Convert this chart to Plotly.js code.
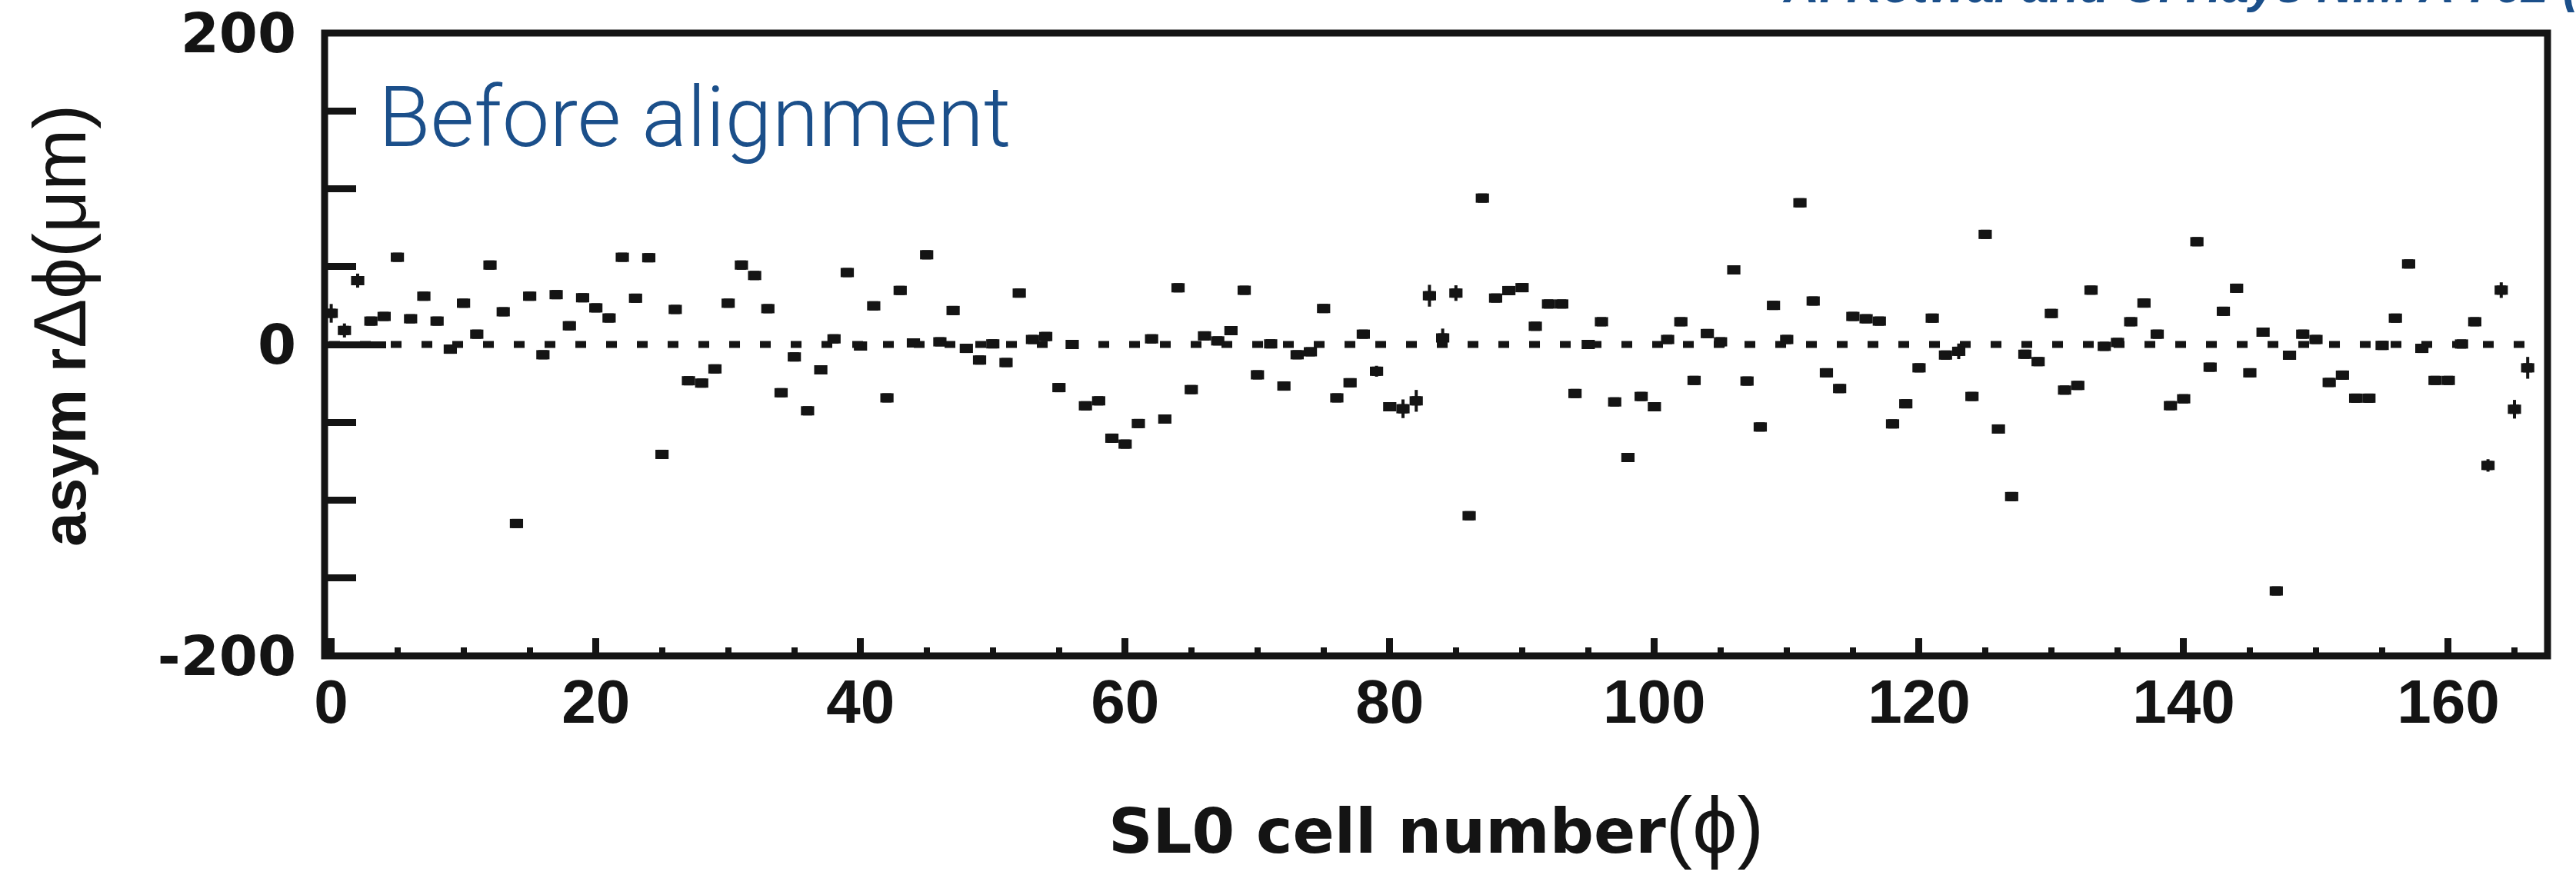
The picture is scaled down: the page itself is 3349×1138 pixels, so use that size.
<!DOCTYPE html>
<html>
<head>
<meta charset="utf-8">
<script src="https://cdn.plot.ly/plotly-3.0.1.min.js"></script>
<style>
html, body { margin: 0; padding: 0; background: #ffffff; }
#chart { width: 3349px; height: 1138px; }
</style>
</head>
<body>
<div id="chart"></div>
<script>
// SL0 cell number (phi)
const cells = [
  0, 1, 2, 3, 4, 5, 6, 7, 8, 9,
  10, 11, 12, 13, 14, 15, 16, 17, 18, 19,
  20, 21, 22, 23, 24, 25, 26, 27, 28, 29,
  30, 31, 32, 33, 34, 35, 36, 37, 38, 39,
  40, 41, 42, 43, 44, 45, 46, 47, 48, 49,
  50, 51, 52, 53, 54, 55, 56, 57, 58, 59,
  60, 61, 62, 63, 64, 65, 66, 67, 68, 69,
  70, 71, 72, 73, 74, 75, 76, 77, 78, 79,
  80, 81, 82, 83, 84, 85, 86, 87, 88, 89,
  90, 91, 92, 93, 94, 95, 96, 97, 98, 99,
  100, 101, 102, 103, 104, 105, 106, 107, 108, 109,
  110, 111, 112, 113, 114, 115, 116, 117, 118, 119,
  120, 121, 122, 123, 124, 125, 126, 127, 128, 129,
  130, 131, 132, 133, 134, 135, 136, 137, 138, 139,
  140, 141, 142, 143, 144, 145, 146, 147, 148, 149,
  150, 151, 152, 153, 154, 155, 156, 157, 158, 159,
  160, 161, 162, 163, 164, 165, 166
];

// asym r·dphi (um), before alignment
const asym = [
  20, 9, 41, 15, 18, 56, 16.5, 31, 15, -3,
  26.5, 6.6, 51, 21, -115, 31, -6.6, 32, 12, 30,
  23.5, 17, 56, 29.7, 55.7, -70.6, 22.5, -23.3, -24.8, -15.7,
  26.5, 51, 44.3, 23, -31, -8, -42.6, -16.3, 3.6, 46.2,
  -1, 24.8, -34.3, 34.7, 1, 57.6, 1.7, 21.8, -2.5, -10,
  0.4, -11.6, 33, 3.2, 5.1, -27.7, 0, -39.4, -36.2, -60.2,
  -64, -50.8, 3.6, -47.9, 36.4, -29, 5.5, 2.3, 8.9, 34.8,
  -19.5, 0.4, -26.7, -6.6, -4.7, 23.1, -34.3, -24.6, 6.6, -17.2,
  -40, -41.3, -36.2, 31.3, 4.2, 33, -110, 94, 29.8, 34.6,
  36.5, 11.7, 26, 26, -31.5, 0, 14.6, -36.9, -72.6, -33.4,
  -40, 3.2, 14.6, -23.1, 7, 1.7, 47.9, -23.5, -53, 25.1,
  3.2, 91, 27.9, -18.2, -28.3, 18, 16.5, 15, -51, -38.1,
  -15, 16.9, -6.8, -4.4, -33.4, 70.7, -54.3, -97.7, -6.3, -11,
  19.9, -29.3, -26.3, 34.9, -1.2, 1.3, 14.6, 26.6, 6.6, -39.3,
  -34.9, 66, -14.6, 21.3, 36.1, -18.2, 7.9, -158.3, -6.9, 6.6,
  3.2, -24.4, -19.7, -34.5, -34.5, -0.6, 16.9, 51.7, -2.5, -23.1,
  -23.1, 0.3, 14.6, -77.7, 34.9, -41.6, -15
];

// statistical error (um)
const asymErr = [
  6, 4.5, 4.5, 2, 2, 2, 2, 2, 2, 2,
  2, 2, 2, 2, 2, 2, 2, 2, 2, 2,
  2, 2, 2, 2, 2, 2, 2, 2, 2, 2,
  2, 2, 2, 2, 2, 2, 2, 2, 2, 2,
  2, 2, 2, 2, 2, 2, 2, 2, 2, 2,
  2, 2, 2, 2, 2, 2, 2, 2, 2, 2,
  2, 2, 2, 2, 2, 2, 2, 2, 2, 2,
  2, 2, 2, 2, 2, 2, 2, 2, 2, 3.5,
  2, 6, 7, 7, 6, 5, 2, 2, 2, 2,
  2, 2, 2, 2, 2, 2, 2, 2, 2, 2,
  2, 2, 2, 2, 2, 2, 2, 2, 2, 2,
  2, 2, 2, 2, 2, 2, 2, 2, 2, 2,
  2, 2, 2, 5, 2, 2, 2, 2, 2, 2,
  2, 2, 2, 2, 2, 2, 2, 2, 2, 2,
  2, 2, 2, 2, 2, 2, 2, 2, 2, 2,
  2, 2, 2, 2, 2, 2, 2, 2, 2, 2,
  2, 2, 2, 4, 5, 6, 7
];

// y tick labels (plain hyphen as in the original)
const yTickVals = [-200, 0, 200];
const yTickText = ['-200', '0', '200'];

const xTitle = '<b>SL0 cell number</b><span style="font-family:\'Liberation Sans\',Arial,sans-serif;font-size:104px;font-weight:normal">(\u03D5)</span>';
const yTitle = '<b>asym r</b><span style="font-family:\'Liberation Sans\',Arial,sans-serif;font-size:96px;font-weight:normal">\u0394\u03D5(\u03BCm)</span>';
const panelLabel = 'Before alignment';
const citation = 'A. Kotwal and C. Hays NIM A 762 (2014) 85';

const ink = '#141414';
const blue = '#1b4f8a';
const helv = '"Liberation Sans", Arial, Helvetica, sans-serif';
const wide = '"DejaVu Sans", "Liberation Sans", Arial, sans-serif';

const trace = {
  type: 'scatter',
  mode: 'markers',
  x: cells,
  y: asym,
  // horizontal bar = half bin width, drawn thick like the ROOT markers
  error_x: { type: 'constant', value: 0.5, visible: true, color: ink, thickness: 12, width: 0 },
  error_y: { type: 'data', array: asymErr, visible: true, color: ink, thickness: 4, width: 0 },
  marker: { symbol: 'square', size: 12, color: ink, line: { width: 0 } },
  hoverinfo: 'x+y',
  showlegend: false
};

const layout = {
  width: 3349,
  height: 1138,
  margin: { l: 422, r: 37, t: 43, b: 285, pad: 0 },
  paper_bgcolor: '#ffffff',
  plot_bgcolor: '#ffffff',
  showlegend: false,
  font: { family: helv, color: ink },
  xaxis: {
    range: [-0.5, 167.5],
    showgrid: false, zeroline: false, showline: false,
    ticks: 'inside', tickmode: 'linear', tick0: 0, dtick: 20,
    ticklen: 23, tickwidth: 9, tickcolor: ink,
    minor: { ticks: 'inside', tickmode: 'linear', tick0: 0, dtick: 5, ticklen: 11, tickwidth: 8, tickcolor: ink, showgrid: false },
    tickfont: { family: helv, size: 80, color: ink, weight: 'bold' },
    ticklabelstandoff: 6,
    title: { text: xTitle, font: { family: wide, size: 80, color: ink }, standoff: 96 }
  },
  yaxis: {
    range: [-200, 200],
    showgrid: false, zeroline: false, showline: false,
    ticks: 'inside', tickmode: 'array', tickvals: yTickVals, ticktext: yTickText,
    ticklen: 80, tickwidth: 9, tickcolor: ink,
    minor: { ticks: 'inside', tickmode: 'linear', tick0: 0, dtick: 50, ticklen: 41, tickwidth: 9, tickcolor: ink, showgrid: false },
    tickfont: { family: wide, size: 72, color: ink, weight: 'bold' },
    ticklabelstandoff: 36
  },
  shapes: [
    { type: 'line', xref: 'x', yref: 'y', x0: -0.15, x1: 167.5, y0: 0, y1: 0,
      line: { color: ink, width: 9, dash: '14px,26px' }, layer: 'below' },
    { type: 'rect', xref: 'paper', yref: 'paper', x0: 0, x1: 1, y0: 0, y1: 1,
      line: { color: ink, width: 9 }, fillcolor: 'rgba(0,0,0,0)', layer: 'above' }
  ],
  annotations: [
    { text: yTitle, xref: 'paper', yref: 'paper', x: -0.119, y: 0.53,
      xanchor: 'center', yanchor: 'middle', textangle: -90, showarrow: false,
      font: { family: helv, size: 80, color: ink } },
    { text: panelLabel, xref: 'paper', yref: 'paper', x: 0.0235, y: 0.783,
      xanchor: 'left', yanchor: 'bottom', showarrow: false,
      font: { family: 'Roboto, "Liberation Sans", Arial, sans-serif', size: 110, color: blue, weight: 300 } },
    { text: '<b><i>' + citation + '</i></b>', xref: 'paper', yref: 'paper', x: 0.655, y: 1.03,
      xanchor: 'left', yanchor: 'bottom', showarrow: false,
      font: { family: helv, size: 64, color: blue } }
  ]
};

Plotly.newPlot('chart', [trace], layout, { displayModeBar: false, staticPlot: true });
</script>
</body>
</html>
